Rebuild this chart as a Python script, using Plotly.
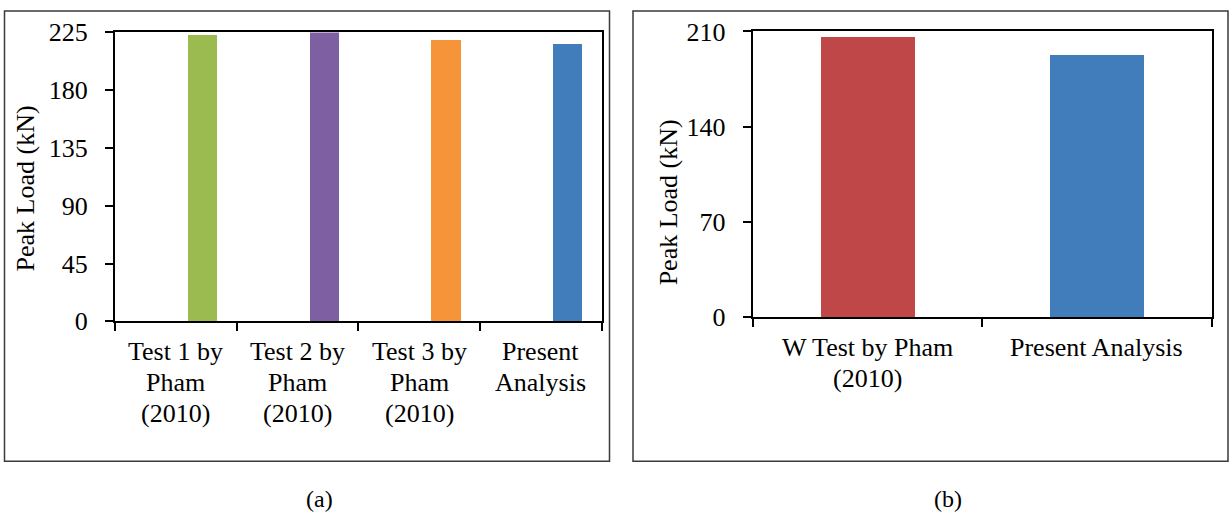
import plotly.graph_objects as go

# ---- data ----
cats_a = ["Test 1 by Pham (2010)", "Test 2 by Pham (2010)",
          "Test 3 by Pham (2010)", "Present Analysis"]
label_lines_a = [["Test 1 by", "Pham", "(2010)"], ["Test 2 by", "Pham", "(2010)"],
                 ["Test 3 by", "Pham", "(2010)"], ["Present", "Analysis"]]
vals_a = [222.5, 224.8, 218.8, 216.0]
colors_a = ["#9BBB50", "#7E5FA2", "#F59439", "#427DBB"]
yticks_a = [0, 45, 90, 135, 180, 225]

cats_b = ["W Test by Pham (2010)", "Present Analysis"]
label_lines_b = [["W Test by Pham", "(2010)"], ["Present Analysis"]]
vals_b = [205.8, 192.5]
colors_b = ["#C04748", "#427DBB"]
yticks_b = [0, 70, 140, 210]

W, H = 1232, 517
FONT = "Liberation Serif"
# effective vertical mapping observed in the renderer
Y_OFF, H_EFF = 12.5, 491.0

def px_x(p):
    return p / W

def px_y(p):
    return 1 - (p - Y_OFF) / H_EFF

fig = go.Figure()

fig.add_trace(go.Bar(x=cats_a, y=vals_a, marker=dict(color=colors_a, line=dict(width=0)),
                     width=0.24, offset=0.10, xaxis="x", yaxis="y", showlegend=False))
fig.add_trace(go.Bar(x=cats_b, y=vals_b, marker=dict(color=colors_b, line=dict(width=0)),
                     width=0.41, xaxis="x2", yaxis="y2", showlegend=False))

axis_common = dict(showgrid=False, zeroline=False, showline=True, linecolor="black",
                   linewidth=2, mirror=True, ticks="outside", ticklen=8, tickwidth=2,
                   tickcolor="black", tickfont=dict(family=FONT, size=26, color="black"))

annots = []
# x category labels, one annotation per text line
line_y_a = [352, 383, 414]
for cat, lines in zip(cats_a, label_lines_a):
    for i, t in enumerate(lines):
        annots.append(dict(text=t, x=cat, xref="x", yref="paper", y=px_y(line_y_a[i]),
                           xanchor="center", yanchor="middle", showarrow=False,
                           font=dict(family=FONT, size=26, color="black")))
line_y_b = [348, 379]
for cat, lines in zip(cats_b, label_lines_b):
    for i, t in enumerate(lines):
        annots.append(dict(text=t, x=cat, xref="x2", yref="paper", y=px_y(line_y_b[i]),
                           xanchor="center", yanchor="middle", showarrow=False,
                           font=dict(family=FONT, size=26, color="black")))

annots += [
    dict(text="Peak Load (kN)", textangle=-90, xref="paper", yref="paper",
         x=px_x(25), y=px_y(188), xanchor="center", yanchor="middle", showarrow=False,
         font=dict(family=FONT, size=26, color="black")),
    dict(text="Peak Load (kN)", textangle=-90, xref="paper", yref="paper",
         x=px_x(668), y=px_y(202), xanchor="center", yanchor="middle", showarrow=False,
         font=dict(family=FONT, size=26, color="black")),
    dict(text="(a)", xref="paper", yref="paper", x=px_x(320), y=px_y(500),
         xanchor="center", yanchor="middle", showarrow=False,
         font=dict(family=FONT, size=24, color="black")),
    dict(text="(b)", xref="paper", yref="paper", x=px_x(948), y=px_y(500),
         xanchor="center", yanchor="middle", showarrow=False,
         font=dict(family=FONT, size=24, color="black")),
]

fig.update_layout(
    width=W, height=H, autosize=False,
    margin=dict(l=0, r=0, t=0, b=0),
    paper_bgcolor="white", plot_bgcolor="white",
    bargap=0,
    xaxis=dict(axis_common, domain=[px_x(115), px_x(601.7)], anchor="y",
               type="category", tickson="boundaries", showticklabels=False),
    yaxis=dict(axis_common, domain=[px_y(321.7), px_y(31)], anchor="x",
               range=[0, 225], tickvals=yticks_a, ticklabelstandoff=12),
    xaxis2=dict(axis_common, domain=[px_x(752.7), px_x(1211.7)], anchor="y2",
                type="category", tickson="boundaries", showticklabels=False),
    yaxis2=dict(axis_common, domain=[px_y(317.7), px_y(30)], anchor="x2",
                range=[0, 210], tickvals=yticks_b, ticklabelstandoff=12),
    shapes=[
        dict(type="rect", xref="paper", yref="paper",
             x0=px_x(4.5), x1=px_x(609.5), y0=px_y(462.5), y1=px_y(9.5),
             line=dict(color="#3a3a3a", width=1.5)),
        dict(type="rect", xref="paper", yref="paper",
             x0=px_x(633), x1=px_x(1228), y0=px_y(462.5), y1=px_y(9.5),
             line=dict(color="#3a3a3a", width=1.5)),
    ],
    annotations=annots,
)

fig.write_html("out.html",
               config={"responsive": False, "displayModeBar": False},
               post_script="document.body.style.margin='0';document.body.style.overflow='hidden';")
